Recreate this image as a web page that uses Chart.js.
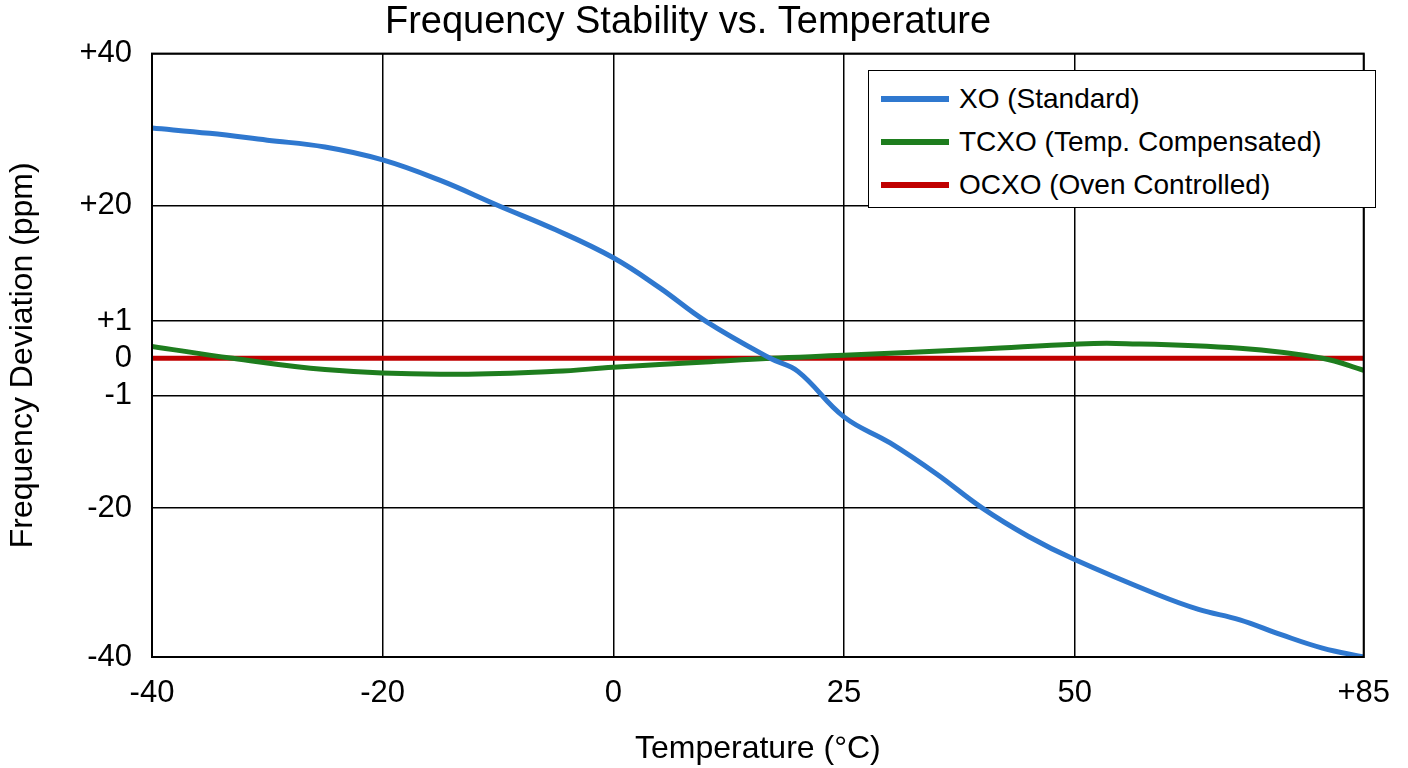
<!DOCTYPE html>
<html><head><meta charset="utf-8">
<script src="https://cdn.jsdelivr.net/npm/chart.js@4/dist/chart.umd.min.js"></script>
<style>
html,body{margin:0;padding:0;background:#fff;}
#wrap{position:relative;width:1408px;height:768px;}
#legend{position:absolute;left:868px;top:70px;width:508px;height:138px;border:1.5px solid #000;background:#fff;
 font-family:"Liberation Sans",Arial,sans-serif;font-size:28px;box-sizing:border-box;padding:6px 0 0 12px;}
#legend div{height:43px;display:flex;align-items:center;}
#legend span{display:inline-block;width:68px;height:6px;margin-right:10px;}
</style></head>
<body><div id="wrap"><canvas id="c" width="1408" height="768"></canvas>
<div id="legend"></div></div>
<script>
// tick values (degC / ppm) and where they sit on the non-linear axes
const xTicks = [-40, -20, 0, 25, 50, 85];
const xTickLabels = ['-40', '-20', '0', '25', '50', '+85'];
const xTickPos = [0, 1, 2, 3, 4, 5.253];
const yTicks = [-40, -20, -1, 0, 1, 20, 40];
const yTickLabels = ['-40', '-20', '-1', '0', '+1', '+20', '+40'];
const yTickPos = [-297, -149, -37, 0, 37, 152, 303];

const temps = [-40, -35, -30, -25, -20, -15, -10, -5, 0, 5, 10, 17, 20, 25, 30, 35, 40, 45, 50, 60, 65, 70, 75, 80, 85];
const xoValues = [30.2, 29.5, 28.6, 27.7, 26, 23.3, 20, 16, 11.4, 6.5, 1, 0, -0.35, -4.6, -9, -14.2, -20, -23.8, -26.9, -31.6, -33.6, -35, -37, -38.8, -40];
const tcxoTemps = [-40, -33, -25, -15, -5, 0, 10, 17, 25, 40, 50, 55, 70, 80, 85];
const tcxoValues = [0.32, 0, -0.3, -0.43, -0.35, -0.24, -0.1, 0, 0.08, 0.25, 0.38, 0.4, 0.27, 0, -0.32];
const ocxoTemps = [-40, 85];
const ocxoValues = [0, 0];

const names = ['XO (Standard)', 'TCXO (Temp. Compensated)', 'OCXO (Oven Controlled)'];
const colors = ['#2f78cf', '#1e7d1e', '#c00000'];

function interp(v, from, to) {
  for (let i = 0; i < from.length - 1; i++) {
    if (v <= from[i + 1] || i === from.length - 2) {
      const t = (v - from[i]) / (from[i + 1] - from[i]);
      return to[i] + t * (to[i + 1] - to[i]);
    }
  }
}
const pts = (xs, ys) => xs.map((x, i) => ({ x: interp(x, xTicks, xTickPos), y: interp(ys[i], yTicks, yTickPos) }));

const font = '"Liberation Sans", Arial, sans-serif';
const lineSets = [[temps, xoValues], [tcxoTemps, tcxoValues], [ocxoTemps, ocxoValues]];

new Chart(document.getElementById('c'), {
  type: 'line',
  data: {
    datasets: lineSets.map((s, i) => ({
      label: names[i], data: pts(s[0], s[1]), borderColor: colors[i],
      borderWidth: 5, pointRadius: 0, tension: 0.4,
    })),
  },
  options: {
    responsive: false, animation: false,
    layout: { padding: { right: 32, top: 0, left: 0, bottom: 0 } },
    plugins: {
      legend: { display: false },
      title: { display: true, text: 'Frequency Stability vs. Temperature', color: '#000',
        font: { family: font, size: 38, weight: 'normal' }, padding: { top: 0, bottom: 8 } },
    },
    scales: {
      x: {
        type: 'linear', min: 0, max: 5.253,
        afterBuildTicks: s => { s.ticks = xTickPos.map(v => ({ value: v })); },
        afterFit: s => { s.height = 111; },
        ticks: { callback: (v, i) => xTickLabels[i], color: '#000', font: { family: font, size: 31 }, padding: 18, maxRotation: 0 },
        grid: { color: '#000', lineWidth: 1.5, drawTicks: false },
        border: { color: '#000', width: 2 },
        title: { display: true, text: 'Temperature (°C)', color: '#000', font: { family: font, size: 32 }, padding: 0 },
      },
      y: {
        type: 'linear', min: -297, max: 303,
        afterBuildTicks: s => { s.ticks = yTickPos.map(v => ({ value: v })); },
        afterFit: s => { s.width = 152; },
        ticks: { callback: (v, i) => yTickLabels[i], color: '#000', font: { family: font, size: 31 }, padding: 20 },
        grid: { color: '#000', lineWidth: 1.5, drawTicks: false },
        border: { color: '#000', width: 2 },
        title: { display: true, text: 'Frequency Deviation (ppm)', color: '#000', font: { family: font, size: 32 }, padding: 4 },
      },
    },
  },
  plugins: [{
    id: 'frame',
    afterDraw(chart) {
      const { ctx, chartArea: a } = chart;
      ctx.save(); ctx.strokeStyle = '#000'; ctx.lineWidth = 2;
      ctx.strokeRect(a.left, a.top, a.right - a.left, a.bottom - a.top);
      ctx.restore();
    },
  }],
});

document.getElementById('legend').innerHTML = names.map((n, i) =>
  `<div><span style="background:${colors[i]}"></span>${n}</div>`).join('');
</script></body></html>
